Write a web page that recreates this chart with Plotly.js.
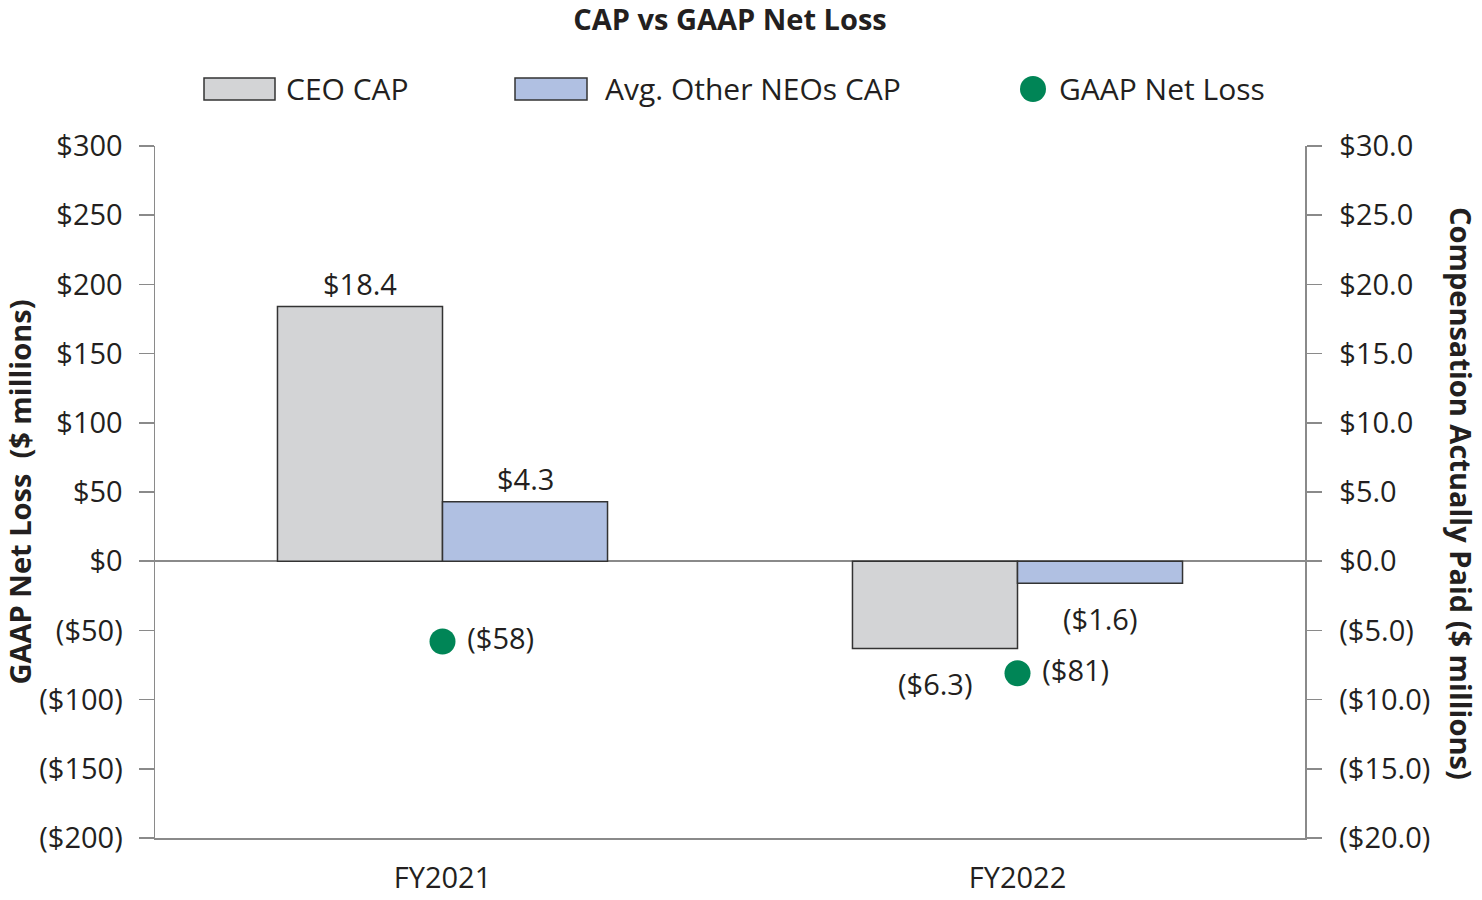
<!DOCTYPE html>
<html>
<head>
<meta charset="utf-8">
<script src="https://cdn.plot.ly/plotly-3.0.1.min.js"></script>
<style>html,body{margin:0;padding:0;background:#fff;}#chart{width:1482px;height:900px;}</style>
</head>
<body>
<div id="chart"></div>
<script>
// ---- data ----
const categories = ["FY2021", "FY2022"];
const ceoCap = [18.4, -6.3];
const neoCap = [4.3, -1.6];
const gaapNetLoss = [-58, -81];
const seriesNames = ["CEO CAP", "Avg. Other NEOs CAP", "GAAP Net Loss"];
const leftTickVals = [300, 250, 200, 150, 100, 50, 0, -50, -100, -150, -200];
const leftTickText = ["$300", "$250", "$200", "$150", "$100", "$50", "$0", "($50)", "($100)", "($150)", "($200)"];
const rightTickVals = [30, 25, 20, 15, 10, 5, 0, -5, -10, -15, -20];
const rightTickText = ["$30.0", "$25.0", "$20.0", "$15.0", "$10.0", "$5.0", "$0.0", "($5.0)", "($10.0)", "($15.0)", "($20.0)"];

// ---- style ----
const FONT = "Open Sans, sans-serif";
const FS = 29;
const TXT = "#231f20";
const AX = "#8a8a8a";
const C_CEO = "#d3d4d6";
const C_NEO = "#b0c0e2";
const C_DOT = "#008556";
const EDGE = "#333333";

function money1(v) { return v < 0 ? "($" + Math.abs(v).toFixed(1) + ")" : "$" + v.toFixed(1); }
function money0(v) { return v < 0 ? "($" + Math.abs(v).toFixed(0) + ")" : "$" + v.toFixed(0); }

// plot area in pixels
const L = 155, R = 1305, T = 146, B = 838;
const px = x => (x - L) / (R - L);
const py = y => (B - y) / (B - T);

const traces = [
  { type: "bar", name: seriesNames[0], x: categories, y: ceoCap, yaxis: "y2",
    marker: { color: C_CEO, line: { color: EDGE, width: 1.5 } }, hoverinfo: "y", showlegend: false },
  { type: "bar", name: seriesNames[1], x: categories, y: neoCap, yaxis: "y2",
    marker: { color: C_NEO, line: { color: EDGE, width: 1.5 } }, hoverinfo: "y", showlegend: false },
  { type: "scatter", mode: "markers+text", name: seriesNames[2], x: categories, y: gaapNetLoss, yaxis: "y",
    marker: { color: C_DOT, size: 26 }, text: gaapNetLoss.map(v => " " + money0(v)),
    textposition: "middle right", textfont: { family: FONT, size: FS, color: TXT }, showlegend: false, cliponaxis: false }
];

// bar value labels (annotations in data coordinates)
const barHalf = 0.1435;
const annotations = [];
[ceoCap, neoCap].forEach((arr, si) => {
  arr.forEach((v, i) => {
    annotations.push({
      x: i + (si === 0 ? -barHalf : barHalf), y: v, xref: "x", yref: "y2",
      text: money1(v), showarrow: false,
      yanchor: v >= 0 ? "bottom" : "top", yshift: v >= 0 ? 2 : -14,
      font: { family: FONT, size: FS, color: TXT }
    });
  });
});

// manual legend
const shapes = [
  { type: "rect", xref: "paper", yref: "paper", x0: px(204), x1: px(275), y0: py(100), y1: py(78),
    fillcolor: C_CEO, line: { color: EDGE, width: 1.5 } },
  { type: "rect", xref: "paper", yref: "paper", x0: px(515), x1: px(587), y0: py(100), y1: py(78),
    fillcolor: C_NEO, line: { color: EDGE, width: 1.5 } },
  { type: "circle", xref: "paper", yref: "paper", x0: px(1020), x1: px(1046), y0: py(102), y1: py(76),
    fillcolor: C_DOT, line: { color: C_DOT, width: 0 } }
];
[[284, 0], [603, 1], [1057, 2]].forEach(([x, k]) => {
  annotations.push({ xref: "paper", yref: "paper", x: px(x), y: py(89), xanchor: "left", yanchor: "middle",
    text: seriesNames[k], showarrow: false, font: { family: FONT, size: 30, color: TXT } });
});

// right axis title
annotations.push({ xref: "paper", yref: "paper", x: px(1461), y: py(493), xanchor: "center", yanchor: "middle",
  text: "<b>Compensation Actually Paid ($ millions)</b>", textangle: 90, showarrow: false,
  font: { family: FONT, size: 29, color: TXT } });

const layout = {
  width: 1482, height: 900,
  paper_bgcolor: "#fff", plot_bgcolor: "#fff",
  margin: { l: L, r: 1482 - R, t: T, b: 900 - B, pad: 0 },
  font: { family: FONT, size: FS, color: TXT },
  title: { text: "<b>CAP vs GAAP Net Loss</b>", x: 0.4926, xanchor: "center", y: 1 - 20 / 900, yanchor: "middle",
    font: { family: FONT, size: 29, color: TXT } },
  showlegend: false,
  barmode: "group", bargap: 0.426, bargroupgap: 0,
  xaxis: { type: "category", showline: true, linecolor: AX, linewidth: 1.5, ticks: "", showgrid: false,
    zeroline: false, tickfont: { family: FONT, size: FS, color: TXT }, ticklabelstandoff: 14, range: [-0.5, 1.5] },
  yaxis: { range: [-200, 300], tickvals: leftTickVals, ticktext: leftTickText, showgrid: false,
    zeroline: true, zerolinecolor: AX, zerolinewidth: 1.5,
    showline: true, linecolor: AX, linewidth: 1.5, ticks: "outside", ticklen: 15, tickcolor: AX, tickwidth: 1.5,
    tickfont: { family: FONT, size: FS, color: TXT }, ticklabelstandoff: 10,
    title: { text: "<b>GAAP Net Loss  ($ millions)</b>", font: { family: FONT, size: 29, color: TXT }, standoff: 4 } },
  yaxis2: { overlaying: "y", side: "right", range: [-20, 30], tickvals: rightTickVals, ticktext: rightTickText,
    showgrid: false, zeroline: false, showline: true, linecolor: AX, linewidth: 1.5,
    ticks: "outside", ticklen: 15, tickcolor: AX, tickwidth: 1.5,
    tickfont: { family: FONT, size: FS, color: TXT }, ticklabelstandoff: 12 },
  shapes: shapes,
  annotations: annotations
};

Plotly.newPlot("chart", traces, layout, { displayModeBar: false, staticPlot: true });
</script>
</body>
</html>
